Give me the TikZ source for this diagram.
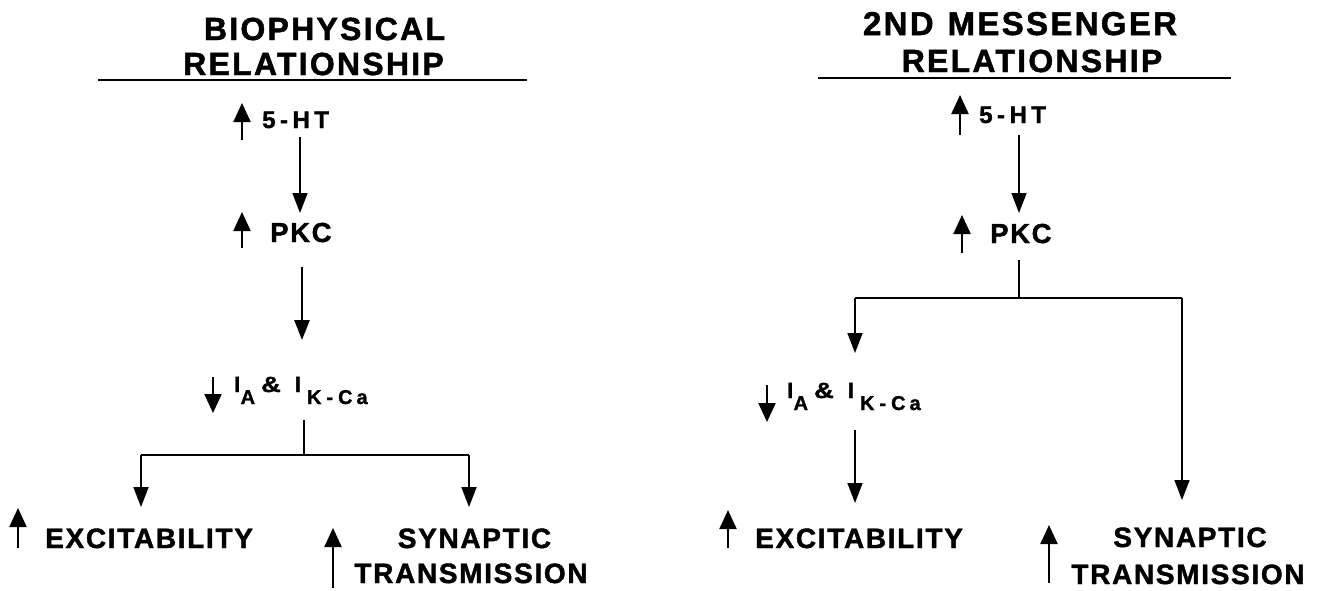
\documentclass[tikz,border=0pt]{standalone}
\usepackage{graphicx}
\usepackage{fontspec}
\setmainfont{Liberation Sans}[FakeBold=1.3]
\newfontfamily\spaced[LetterSpace=6,FakeBold=1.5]{Liberation Sans}
\newfontfamily\tspaced[LetterSpace=7,FakeBold=1.5]{Liberation Sans}
\usetikzlibrary{arrows.meta}
\begin{document}
\begin{tikzpicture}[x=1pt,y=-1pt,
  lbl/.style={font=\spaced\fontsize{28}{30}\selectfont\bfseries, inner sep=0pt, anchor=base west},
  clbl/.style={lbl, anchor=base},
  plbl/.style={font=\spaced\fontsize{27.5}{30}\selectfont\bfseries, inner sep=0pt, anchor=base west},
  slbl/.style={font=\fontsize{24}{26}\selectfont\bfseries, inner sep=0pt, anchor=base west},
  ilbl/.style={font=\fontsize{22}{24}\selectfont\bfseries, inner sep=0pt, anchor=base west},
  ttl/.style={font=\tspaced\fontsize{32}{36}\selectfont\bfseries, inner sep=0pt, anchor=base},
  conn/.style={line width=1.6pt, -{Triangle[length=20pt,width=15pt]}},
  thick conn/.style={conn, line width=2.6pt},
  plain/.style={line width=1.8pt},
  ind/.style={line width=2.2pt, -{Triangle[length=19pt,width=17pt]}},
  rule/.style={line width=2.7pt},
]
\useasboundingbox (0,0) rectangle (1317,590);
\newcommand{\fivehtlbl}{5\kern4.5pt-\kern4.5pt H\kern4.5pt T}
\newcommand{\iakca}{I\kern0.3pt\raisebox{-12pt}{\fontsize{20}{22}\selectfont A}\kern6pt\scalebox{1.25}[1]{\&}\kern14pt I\kern6pt\raisebox{-12pt}{\fontsize{20}{22}\selectfont K\kern5pt-\kern5pt C\kern4pt a}}

% ---------------- left panel ----------------
\node[ttl] (t1a) at (324.5,40) {BIOPHYSICAL};
\node[ttl] (t1b) at (313.5,75) {RELATIONSHIP};
\coordinate (u1l) at (98,80); \coordinate (u1r) at (527,80);
\draw[rule] (u1l) -- (u1r);

\node[slbl] (ht1) at (262,128) {\fivehtlbl};
\node[plbl] (pkc1) at (270,242) {PKC};
\node[ilbl] (ia1) at (234,392) {\iakca};
\node[lbl] (ex1) at (45,548) {EXCITABILITY};
\node[clbl] (syn1) at (474.5,548) {SYNAPTIC};
\node[clbl] (tr1) at (471,583) {TRANSMISSION};

\coordinate (a1s) at (300,137); \coordinate (a1e) at (300,213);
\coordinate (a2s) at (302,267); \coordinate (a2e) at (302,340);
\coordinate (j1t) at (304,420); \coordinate (j1) at (304,455);
\coordinate (j1l) at (141,455); \coordinate (j1r) at (469,455);
\coordinate (e1l) at (141,507); \coordinate (e1r) at (469,507);
\draw[conn] (a1s) -- (a1e);
\draw[thick conn] (a2s) -- (a2e);
\draw[plain] (j1t) -- (j1);
\draw[plain] (j1l) -- (j1r);
\draw[conn, line width=1.8pt] (j1l) -- (e1l);
\draw[conn, line width=1.8pt] (j1r) -- (e1r);

\draw[ind] (242,140) -- (242,103);
\draw[ind] (242,248) -- (242,212);
\draw[ind] (213,377) -- (213,413);
\draw[ind] (18,548) -- (18,508);
\draw[ind] (333,588) -- (333,528);

% ---------------- right panel ----------------
\node[ttl, font=\tspaced\fontsize{33}{36}\selectfont\bfseries] (t2a) at (1020,35) {2ND\hspace{14pt}MESSENGER};
\node[ttl] (t2b) at (1032,72) {RELATIONSHIP};
\coordinate (u2l) at (818,78); \coordinate (u2r) at (1231,78);
\draw[rule] (u2l) -- (u2r);

\node[slbl] (ht2) at (979,123) {\fivehtlbl};
\node[plbl] (pkc2) at (990,243) {PKC};
\node[ilbl] (ia2) at (787,398) {\iakca};
\node[lbl] (ex2) at (755,548) {EXCITABILITY};
\node[clbl] (syn2) at (1190,547) {SYNAPTIC};
\node[clbl] (tr2) at (1188,584) {TRANSMISSION};

\coordinate (b1s) at (1019,135); \coordinate (b1e) at (1019,213);
\coordinate (j2t) at (1019,260); \coordinate (j2) at (1019,298);
\coordinate (j2l) at (855,298); \coordinate (j2r) at (1182,298);
\coordinate (e2l) at (855,353); \coordinate (e2r) at (1182,500);
\coordinate (b3s) at (855,430); \coordinate (b3e) at (855,503);
\draw[conn] (b1s) -- (b1e);
\draw[plain] (j2t) -- (j2);
\draw[plain] (j2l) -- (j2r);
\draw[conn, line width=1.8pt] (j2l) -- (e2l);
\draw[conn] (j2r) -- (e2r);
\draw[conn] (b3s) -- (b3e);

\draw[ind] (960,135) -- (960,95);
\draw[ind] (962,253) -- (962,215);
\draw[ind] (767,385) -- (767,422);
\draw[ind] (728,548) -- (728,510);
\draw[ind] (1049,583) -- (1049,525);
\end{tikzpicture}
\end{document}
